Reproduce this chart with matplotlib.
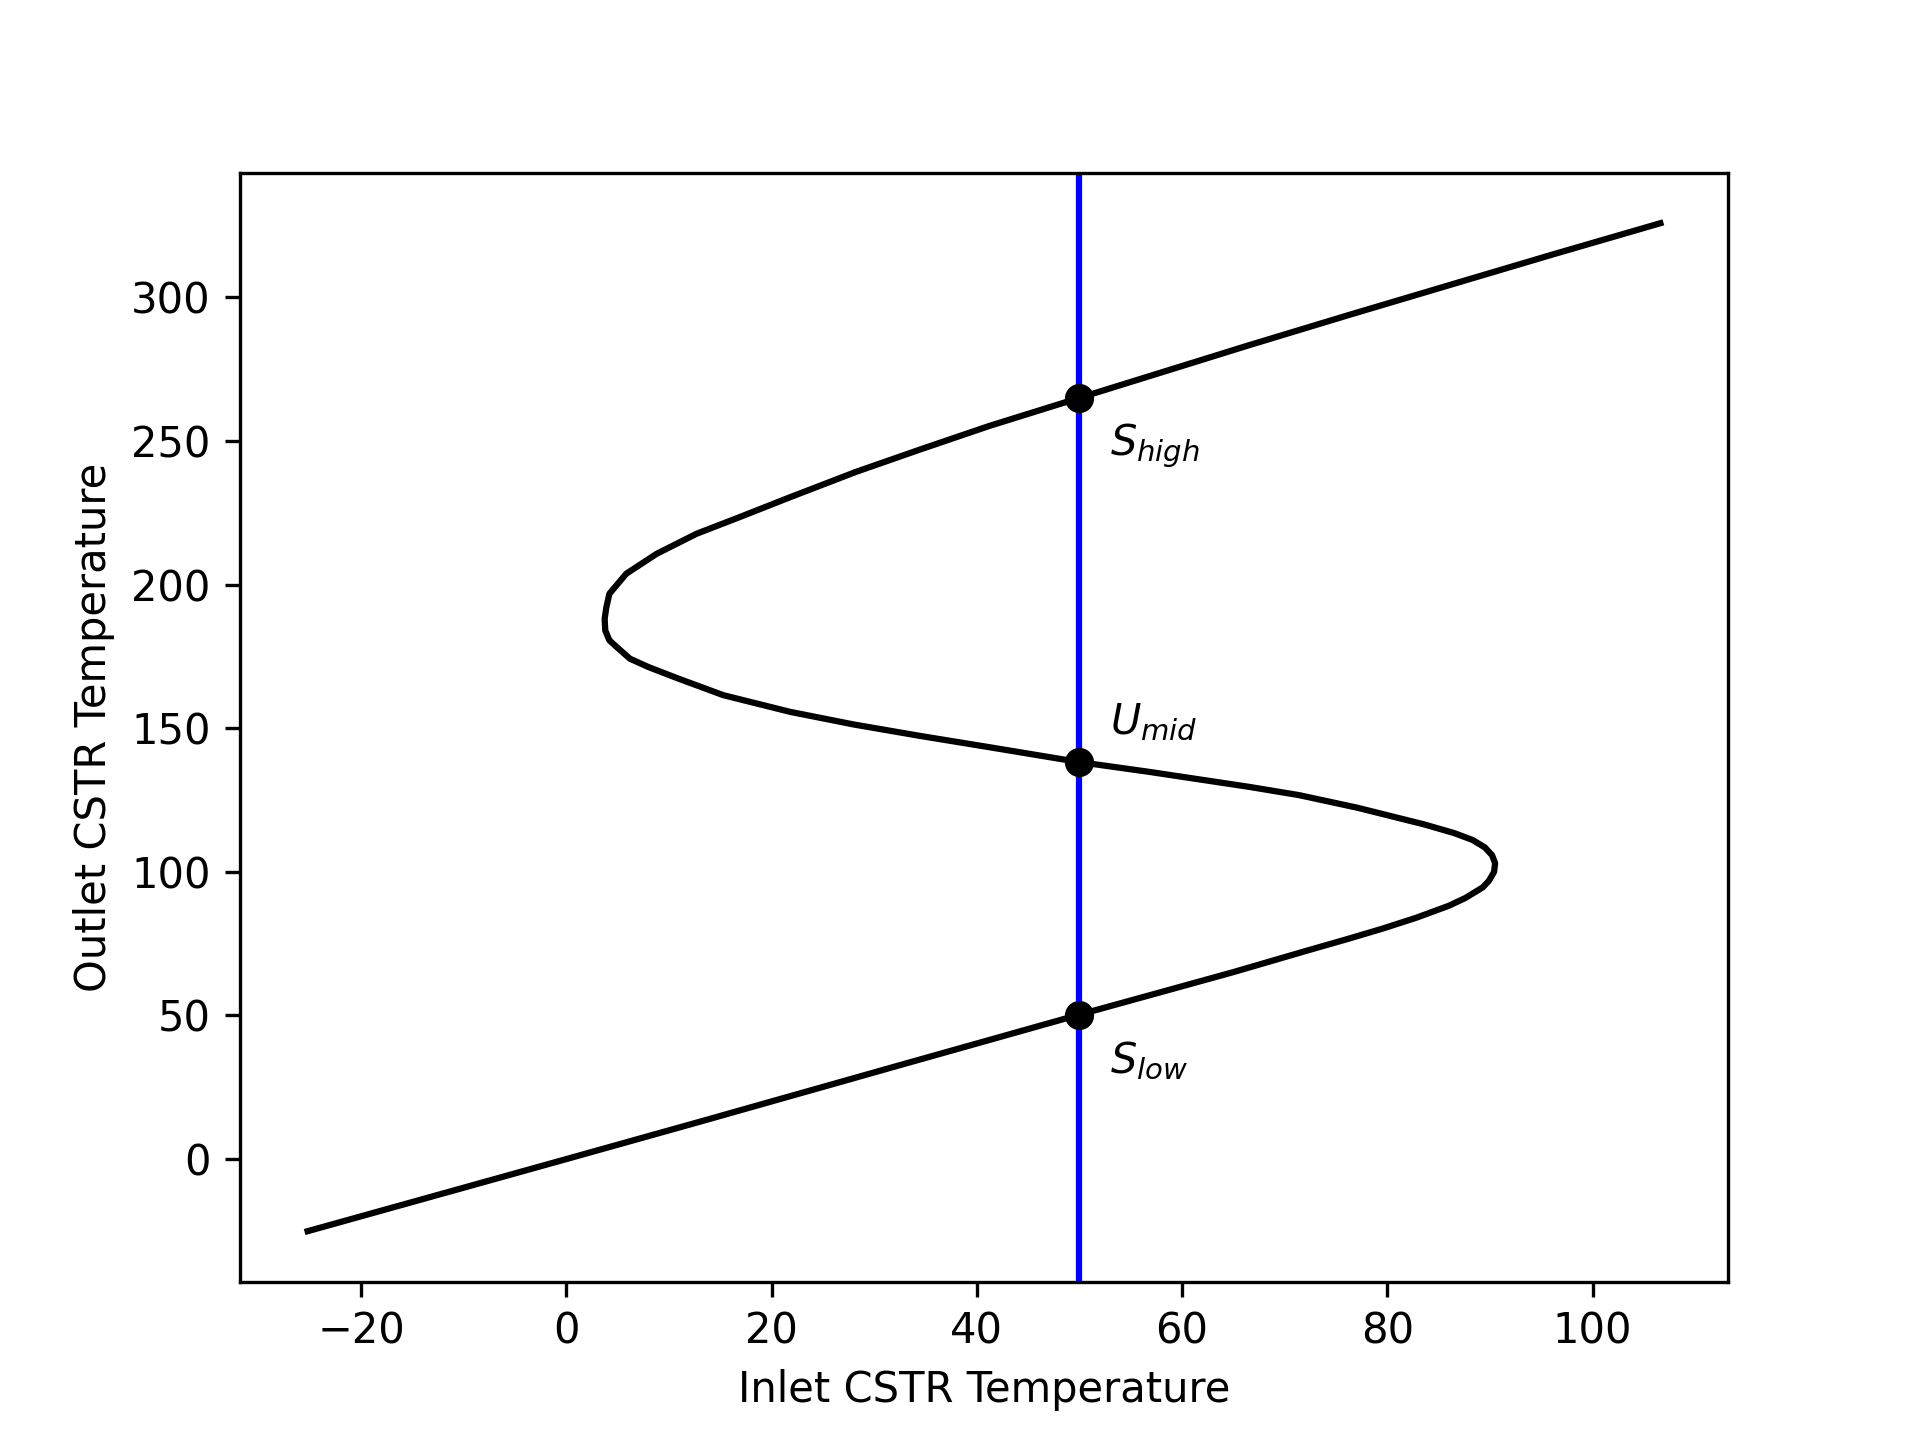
import matplotlib
matplotlib.use('Agg')
import matplotlib.pyplot as plt

# steady-state curve: inlet T vs outlet T
T_in = [-25.2, 0.0, 13.0, 32.5, 50.0, 56.8, 64.9, 72.2, 76.3, 79.5,
        82.8, 86.0, 87.6, 89.3, 89.9, 90.4, 90.5, 90.2, 89.5, 88.3,
        86.5, 83.6, 77.1, 71.4, 66.5, 56.8, 50.0, 41.2, 34.5, 28.0,
        21.8, 15.3, 10.9, 8.0, 6.2, 4.9, 4.2, 3.8, 3.74, 3.9,
        4.2, 5.85, 8.8, 12.7, 16.9, 21.8, 28.2, 34.7, 41.2, 50.0,
        66.5, 76.3, 86.0, 96.0, 106.6]
T_out = [-25.1, 0.0, 13.0, 32.7, 50.3, 57.0, 65.0, 72.6, 76.8, 80.2,
         84.0, 88.2, 90.9, 94.6, 96.9, 100.0, 103.0, 105.8, 108.5, 111.1,
         113.5, 116.5, 122.3, 126.7, 129.6, 134.8, 138.2, 143.4, 147.3, 151.3,
         155.7, 161.5, 167.3, 171.3, 174.2, 178.3, 180.6, 184.0, 188.1, 192.0,
         196.8, 203.8, 210.7, 217.7, 223.5, 230.4, 239.2, 247.3, 255.2, 265.0,
         283.3, 293.9, 304.2, 314.8, 325.8]

# operating inlet temperature and the three steady states
T_feed = 50
ss_out = [50.3, 138.2, 265.0]
ss_labels = [r'$S_{low}$', r'$U_{mid}$', r'$S_{high}$']
label_y = [30, 148, 245]

fig, ax = plt.subplots(figsize=(6.4, 4.8), dpi=300)
ax.plot(T_in, T_out, 'k-')
ax.axvline(T_feed, color='b')
ax.plot([T_feed] * len(ss_out), ss_out, 'ko')
for lab, ly in zip(ss_labels, label_y):
    ax.text(T_feed + 3, ly, lab)

ax.set_xlabel('Inlet CSTR Temperature')
ax.set_ylabel('Outlet CSTR Temperature')

fig.savefig('out.png', dpi=300)
